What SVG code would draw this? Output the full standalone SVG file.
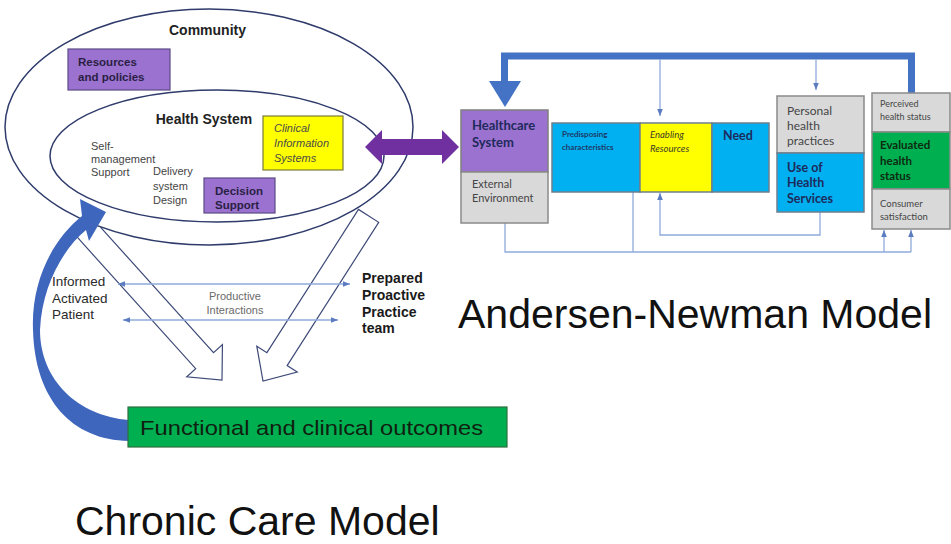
<svg xmlns="http://www.w3.org/2000/svg" width="951" height="544" viewBox="0 0 951 544">
  <style>
    .ccm { font-family: "Liberation Sans", Arial, sans-serif; }
    .an { font-family: Lato, "Liberation Sans", sans-serif; }
    .ring { fill: none; stroke: #2e3b6b; stroke-width: 1.5; }
    .purple { fill: #9b72cf; stroke: #5b4a86; stroke-width: 1.2; }
    .yellow { fill: #ffff00; stroke: #7a7a3a; stroke-width: 1.2; }
    .green { fill: #00b050; stroke: #2f6f3f; stroke-width: 1.2; }
    .blue { fill: #00b0f0; stroke: #6f7f8f; stroke-width: 1.5; }
    .grey { fill: #d9d9d9; stroke: #8a8a8a; stroke-width: 1.5; }
    .hollow { fill: none; stroke: #3d4a78; stroke-width: 1.2; stroke-linejoin: miter; }
    .thin { fill: none; stroke: #8faadc; stroke-width: 1.3; }
    .navy { fill: #1f2a5c; font-weight: bold; }
    .dim { fill: #454545; }
  </style>
  <defs>
    <marker id="tri" viewBox="0 0 10 10" refX="10" refY="5" markerWidth="7" markerHeight="7" markerUnits="userSpaceOnUse" orient="auto-start-reverse">
      <path d="M0,1 L10,5 L0,9 Z" fill="#5b7cc0"/>
    </marker>
    <!-- everything outside the community ellipse -->
    <clipPath id="outsideCommunity">
      <path clip-rule="evenodd" d="M0,0 H951 V544 H0 Z M5,127 A204,118 0 1,0 413,127 A204,118 0 1,0 5,127 Z"/>
    </clipPath>
  </defs>

  <!-- Chronic Care Model containers -->
  <g id="community" class="ccm">
    <ellipse class="ring" cx="209" cy="127" rx="204" ry="118"/>
    <text x="207.5" y="35" text-anchor="middle" font-size="14" font-weight="bold" fill="#222">Community</text>
  </g>
  <g id="health-system" class="ccm">
    <ellipse class="ring" cx="217" cy="156" rx="167" ry="66"/>
    <text x="204" y="124" text-anchor="middle" font-size="14" font-weight="bold" fill="#222">Health System</text>
  </g>

  <g id="connectors">
    <!-- hollow block arrows toward outcomes -->
    <g clip-path="url(#outsideCommunity)">
      <polyline class="hollow" transform="translate(222,380) rotate(48)" points="-206,12 -26,12 -26,24 0,0 -26,-24 -26,-12 -195,-12"/>
      <polygon class="hollow" transform="translate(263,381) rotate(122.6)" points="-196,-12 -26,-12 -26,-24 0,0 -26,24 -26,12 -196,12"/>
    </g>
    <!-- productive interactions -->
    <line class="thin" x1="118" y1="284" x2="350" y2="284" marker-start="url(#tri)" marker-end="url(#tri)"/>
    <line class="thin" x1="123" y1="320" x2="338" y2="320" marker-start="url(#tri)" marker-end="url(#tri)"/>
    <!-- feedback from outcomes to the health system -->
    <path fill="#3f66bd" d="M129,441 C72,440 35,400 33,330 C31,282 52,240 82,216 L80,199 L106,212 L89,241 L86,230 C64,248 42,285 40,330 C40,380 78,416 129,420 Z"/>
    <!-- link between the two models -->
    <polygon fill="#7030a0" points="365,147 382,130 382,139 442,139 442,130 459,147 442,164 442,155 382,155 382,164"/>
    <!-- Andersen-Newman feedback loop -->
    <path d="M911.5,93 V56 H504.5 V82" fill="none" stroke="#4472c4" stroke-width="7" stroke-linejoin="miter"/>
    <polygon fill="#4472c4" points="489,81 521,81 505,107"/>
    <path class="thin" d="M660,59 V116" marker-end="url(#tri)"/>
    <path class="thin" d="M816,59 V90" marker-end="url(#tri)"/>
    <path class="thin" d="M820,212 V235 H660 V193" marker-end="url(#tri)"/>
    <path class="thin" d="M505,223 V252 H911"/>
    <path class="thin" d="M633,192 V252"/>
    <path class="thin" d="M884,252 V230" marker-end="url(#tri)"/>
    <path class="thin" d="M911,252 V230" marker-end="url(#tri)"/>
  </g>

  <!-- Chronic Care Model elements -->
  <g id="resources-policies" class="ccm">
    <rect class="purple" x="68" y="49" width="102" height="41"/>
    <text font-size="11.5" font-weight="bold" fill="#2a1f45"><tspan x="78" y="66">Resources</tspan><tspan x="78" y="81">and policies</tspan></text>
  </g>
  <g id="clinical-information" class="ccm">
    <rect class="yellow" x="263" y="116" width="80" height="54"/>
    <text font-size="11" font-style="italic" fill="#4a4a4a"><tspan x="274" y="132">Clinical</tspan><tspan x="274" y="147">Information</tspan><tspan x="274" y="162">Systems</tspan></text>
  </g>
  <g id="self-management" class="ccm">
    <text font-size="11" fill="#444"><tspan x="91" y="150">Self-</tspan><tspan x="91" y="162.5">management</tspan><tspan x="91" y="176">Support</tspan></text>
  </g>
  <g id="delivery-design" class="ccm">
    <text font-size="11" fill="#444"><tspan x="153" y="175">Delivery</tspan><tspan x="153" y="190">system</tspan><tspan x="153" y="204">Design</tspan></text>
  </g>
  <g id="decision-support" class="ccm">
    <rect class="purple" x="204" y="178" width="71" height="35"/>
    <text font-size="11.5" font-weight="bold" fill="#2a1f45"><tspan x="215" y="195">Decision</tspan><tspan x="215" y="209">Support</tspan></text>
  </g>
  <g id="informed-patient" class="ccm">
    <text font-size="13.5" fill="#2a2a2a"><tspan x="52" y="286">Informed</tspan><tspan x="52" y="302.5">Activated</tspan><tspan x="52" y="319">Patient</tspan></text>
  </g>
  <g id="productive-interactions" class="ccm">
    <text font-size="11" fill="#6a6a6a" text-anchor="middle"><tspan x="235" y="300">Productive</tspan><tspan x="235" y="314">Interactions</tspan></text>
  </g>
  <g id="practice-team" class="ccm">
    <text font-size="14" font-weight="bold" fill="#1a1a1a"><tspan x="362" y="283">Prepared</tspan><tspan x="362" y="300">Proactive</tspan><tspan x="362" y="316.5">Practice</tspan><tspan x="362" y="333">team</tspan></text>
  </g>
  <g id="outcomes" class="ccm">
    <rect class="green" x="128" y="407" width="379" height="40"/>
    <text x="140" y="435" font-size="21" fill="#102010" textLength="343" lengthAdjust="spacingAndGlyphs">Functional and clinical outcomes</text>
  </g>
  <g id="ccm-title" class="ccm">
    <text x="75" y="535" font-size="41" fill="#111">Chronic Care Model</text>
  </g>

  <!-- Andersen-Newman Model elements -->
  <g id="healthcare-system" class="an">
    <rect class="purple" x="461" y="110" width="87" height="62" style="stroke:#7f7f7f;stroke-width:1.5"/>
    <rect class="grey" x="461" y="172" width="87" height="51"/>
    <text class="navy" font-size="13"><tspan x="472" y="130">Healthcare</tspan><tspan x="472" y="146.5">System</tspan></text>
    <text class="dim" font-size="11"><tspan x="472" y="188">External</tspan><tspan x="472" y="201.5">Environment</tspan></text>
  </g>
  <g id="population-characteristics" class="an">
    <rect class="blue" x="552" y="123" width="88" height="69"/>
    <rect x="640" y="123" width="72" height="69" fill="#ffff00" stroke="#6f7f8f" stroke-width="1.5"/>
    <rect class="blue" x="712" y="123" width="57" height="69"/>
    <text font-size="8" font-weight="bold" fill="#1f3a6a"><tspan x="562" y="137">Predisposing</tspan><tspan x="562" y="150">characteristics</tspan></text>
    <text font-size="9.5" font-style="italic" fill="#3a3a2a"><tspan x="650" y="138">Enabling</tspan><tspan x="650" y="151.5">Resources</tspan></text>
    <text class="navy" x="723" y="140" font-size="12.5">Need</text>
  </g>
  <g id="health-behavior" class="an">
    <rect class="grey" x="777" y="96" width="87" height="57"/>
    <rect class="blue" x="777" y="153" width="87" height="59"/>
    <text class="dim" font-size="12"><tspan x="787" y="115">Personal</tspan><tspan x="787" y="130">health</tspan><tspan x="787" y="145">practices</tspan></text>
    <text class="navy" font-size="12.5"><tspan x="787" y="172">Use of</tspan><tspan x="787" y="187">Health</tspan><tspan x="787" y="203">Services</tspan></text>
  </g>
  <g id="outcomes-column" class="an">
    <rect class="grey" x="872" y="93" width="78" height="39"/>
    <rect x="872" y="132" width="78" height="57" fill="#00b050" stroke="#8a8a8a" stroke-width="1.5"/>
    <rect class="grey" x="872" y="189" width="78" height="40"/>
    <text class="dim" font-size="9"><tspan x="880" y="107">Perceived</tspan><tspan x="880" y="120">health status</tspan></text>
    <text font-size="11.5" font-weight="bold" fill="#0f2a12"><tspan x="880" y="149">Evaluated</tspan><tspan x="880" y="165">health</tspan><tspan x="880" y="180">status</tspan></text>
    <text class="dim" font-size="9.5"><tspan x="880" y="207">Consumer</tspan><tspan x="880" y="220">satisfaction</tspan></text>
  </g>
  <g id="an-title" class="ccm">
    <text x="458" y="328" font-size="41" fill="#111">Andersen-Newman Model</text>
  </g>
</svg>
